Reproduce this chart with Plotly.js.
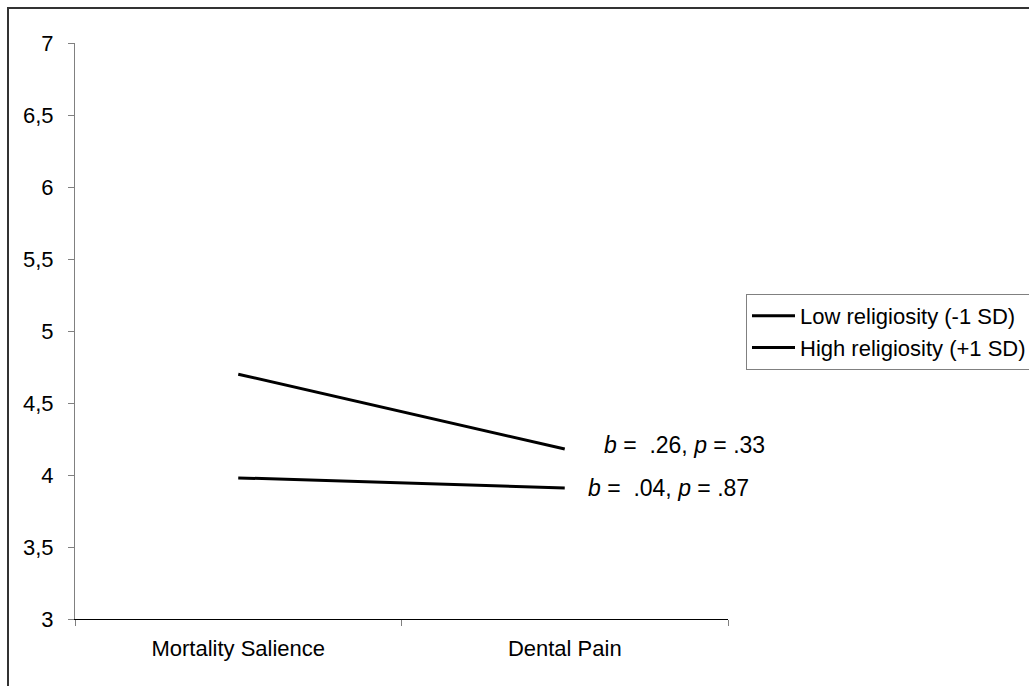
<!DOCTYPE html>
<html>
<head>
<meta charset="utf-8">
<script src="https://cdn.plot.ly/plotly-3.0.1.min.js"></script>
<style>html,body{margin:0;padding:0;background:#fff;}#chart{width:1029px;height:686px;}</style>
</head>
<body>
<div id="chart"></div>
<script>
var categories = ["Mortality Salience", "Dental Pain"];
var lowReligiosity = [4.70, 4.18];
var highReligiosity = [3.98, 3.91];
var seriesNames = ["Low religiosity (-1 SD)", "High religiosity (+1 SD)"];
var slopeLabels = ["<i>b</i> =  .26, <i>p</i> = .33", "<i>b</i> =  .04, <i>p</i> = .87"];
var yTicks = [3, 3.5, 4, 4.5, 5, 5.5, 6, 6.5, 7];

var FONT = "Arial, 'Liberation Sans', sans-serif";
var lineStyle = {color: "#000", width: 3};

var traces = [
  {x: categories, y: lowReligiosity, name: seriesNames[0], type: "scatter", mode: "lines", line: lineStyle},
  {x: categories, y: highReligiosity, name: seriesNames[1], type: "scatter", mode: "lines", line: lineStyle}
];

var L = 75, R = 728, T = 43, B = 619, W = 1029, H = 686;
function px(x){ return (x - L) / (R - L); }
function py(y){ return (B - y) / (B - T); }

var layout = {
  width: W, height: H,
  margin: {l: L, r: W - R, t: T, b: H - B, pad: 0, autoexpand: false},
  paper_bgcolor: "#fff", plot_bgcolor: "#fff",
  separators: ", ",
  font: {family: FONT, size: 22, color: "#000"},
  showlegend: true,
  legend: {
    x: px(746), y: py(294), xanchor: "left", yanchor: "top",
    bordercolor: "#808080", borderwidth: 1, bgcolor: "#fff",
    font: {family: FONT, size: 22, color: "#000"},
    tracegroupgap: 0, itemwidth: 43
  },
  xaxis: {
    type: "category", range: [-0.5, 1.5],
    showline: true, linecolor: "#000", linewidth: 1,
    ticks: "outside", ticklen: 6, tickcolor: "#808080", tickwidth: 1,
    tickson: "boundaries",
    showgrid: false, zeroline: false,
    tickfont: {family: FONT, size: 22, color: "#000"},
    ticklabelstandoff: 10,
    fixedrange: true
  },
  yaxis: {
    range: [3, 7], tickvals: yTicks,
    showline: true, linecolor: "#808080", linewidth: 1,
    ticks: "outside", ticklen: 6, tickcolor: "#808080", tickwidth: 1,
    showgrid: false, zeroline: false,
    tickfont: {family: FONT, size: 22, color: "#000"},
    ticklabelstandoff: 10,
    fixedrange: true
  },
  annotations: [
    {x: 1, y: lowReligiosity[1], xref: "x", yref: "y", text: slopeLabels[0], showarrow: false,
     xanchor: "left", yanchor: "middle", xshift: 37, yshift: 4, font: {family: FONT, size: 23, color: "#000"}},
    {x: 1, y: highReligiosity[1], xref: "x", yref: "y", text: slopeLabels[1], showarrow: false,
     xanchor: "left", yanchor: "middle", xshift: 21, yshift: 0, font: {family: FONT, size: 23, color: "#000"}}
  ],
  shapes: [
    {type: "rect", xref: "paper", yref: "paper", x0: px(8), x1: px(1040), y0: py(700), y1: py(8),
     line: {color: "#333", width: 2}, fillcolor: "rgba(0,0,0,0)", layer: "below"}
  ]
};

Plotly.newPlot("chart", traces, layout, {displayModeBar: false, staticPlot: true});
</script>
</body>
</html>
